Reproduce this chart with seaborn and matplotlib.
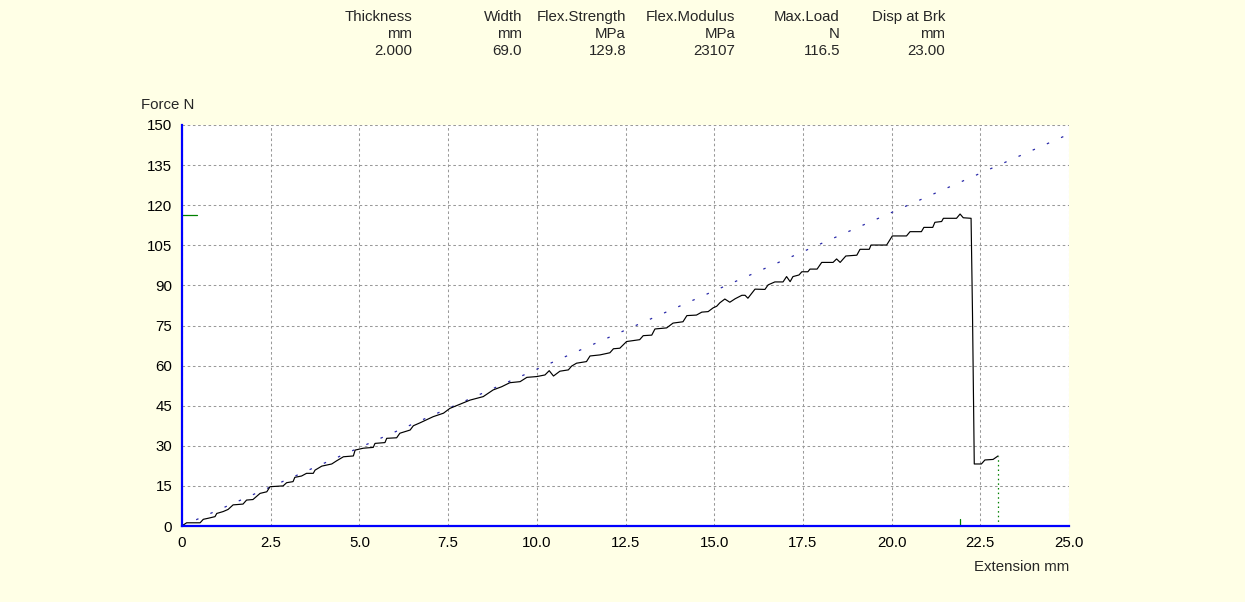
import matplotlib
matplotlib.use("Agg")
import matplotlib.pyplot as plt
import seaborn as sns
import pandas as pd

# ---- data ----
header_names = ["Thickness", "Width", "Flex.Strength", "Flex.Modulus", "Max.Load", "Disp at Brk"]
header_units = ["mm", "mm", "MPa", "MPa", "N", "mm"]
header_values = ["2.000", "69.0", "129.8", "23107", "116.5", "23.00"]

extension = [0.00, 0.04, 0.13, 0.51, 0.60, 0.74, 0.93, 0.98, 1.16, 1.30,
             1.44, 1.72, 1.82, 2.00, 2.20, 2.39, 2.48, 2.85, 2.95, 3.13,
             3.18, 3.37, 3.51, 3.70, 3.75, 3.94, 4.22, 4.36, 4.55, 4.83,
             4.88, 5.11, 5.39, 5.44, 5.72, 5.77, 6.05, 6.14, 6.43, 6.52,
             6.71, 7.08, 7.37, 7.55, 7.84, 8.12, 8.49, 8.77, 9.01, 9.24,
             9.53, 9.72, 10.00, 10.23, 10.35, 10.47, 10.65, 10.89, 10.98, 11.12,
             11.40, 11.50, 11.78, 12.06, 12.16, 12.34, 12.53, 12.90, 13.00, 13.24,
             13.33, 13.66, 13.84, 14.12, 14.23, 14.50, 14.65, 14.83, 14.97, 15.07,
             15.16, 15.30, 15.44, 15.59, 15.78, 15.87, 15.95, 16.15, 16.43, 16.52,
             16.71, 16.94, 17.04, 17.14, 17.22, 17.39, 17.47, 17.64, 17.70, 17.90,
             18.03, 18.35, 18.45, 18.55, 18.71, 19.02, 19.11, 19.37, 19.42, 19.86,
             20.02, 20.42, 20.52, 20.84, 20.91, 21.16, 21.22, 21.41, 21.46, 21.83,
             21.93, 22.02, 22.24, 22.28, 22.32, 22.33, 22.53, 22.63, 22.86, 23.00]

force = [0.0, 0.4, 1.2, 1.2, 2.5, 2.9, 3.5, 4.7, 5.4, 6.2,
         7.9, 8.2, 9.7, 9.9, 12.2, 12.8, 14.7, 15.0, 16.2, 16.6,
         18.2, 18.7, 19.7, 19.7, 20.9, 22.4, 23.2, 24.4, 25.9, 26.2,
         28.4, 29.1, 29.4, 30.9, 31.2, 32.8, 33.0, 34.7, 35.9, 37.5,
         38.6, 40.9, 42.2, 44.0, 45.6, 47.1, 48.4, 50.9, 52.1, 53.6,
         54.0, 55.6, 55.9, 56.5, 58.1, 56.1, 57.9, 58.4, 59.8, 60.9,
         61.5, 63.6, 64.0, 64.8, 66.3, 66.5, 69.0, 69.7, 71.2, 71.4,
         73.7, 74.1, 75.9, 76.4, 78.7, 78.9, 80.0, 80.2, 81.6, 82.2,
         83.5, 84.9, 83.7, 85.0, 86.3, 86.3, 85.2, 88.6, 88.5, 90.2,
         91.3, 91.3, 93.3, 91.4, 93.3, 93.9, 95.1, 95.1, 96.1, 96.1,
         98.6, 98.6, 99.9, 98.6, 101.0, 101.3, 103.5, 103.5, 105.1, 105.1,
         108.5, 108.5, 110.1, 110.1, 111.7, 111.7, 113.6, 113.9, 115.1, 115.1,
         116.7, 115.3, 115.1, 79.6, 34.7, 23.2, 23.2, 24.7, 24.9, 26.2]

modulus_ext = [0.0, 25.0]
modulus_force = [0.0, 146.6]

max_load = 116.5
max_load_ext = 21.93
break_ext = 23.00
break_force = 26.2

x_ticks = [0, 2.5, 5.0, 7.5, 10.0, 12.5, 15.0, 17.5, 20.0, 22.5, 25.0]
x_tick_labels = ["0", "2.5", "5.0", "7.5", "10.0", "12.5", "15.0", "17.5", "20.0", "22.5", "25.0"]
y_ticks = [0, 15, 30, 45, 60, 75, 90, 105, 120, 135, 150]
y_tick_labels = ["0", "15", "30", "45", "60", "75", "90", "105", "120", "135", "150"]

# ---- style ----
sns.set_style("white")
plt.rcParams["font.family"] = ["Liberation Sans", "DejaVu Sans"]
FS = 10.8
BG = "#FFFFE6"
W, H = 1245, 602
fig = plt.figure(figsize=(W / 100, H / 100), dpi=100, facecolor=BG)
ax = fig.add_axes([182 / W, 1 - 526 / H, (1069 - 182) / W, (526 - 125) / H])
ax.set_facecolor("white")

df = pd.DataFrame({"Extension": extension, "Force": force})
mod = pd.DataFrame({"Extension": modulus_ext, "Force": modulus_force})

sns.lineplot(data=mod, x="Extension", y="Force", ax=ax, color="#2828A8",
             linewidth=0.9, sort=False, zorder=2)
ax.lines[-1].set_dashes((2.0, 10.4))
sns.lineplot(data=df, x="Extension", y="Force", ax=ax, color="black",
             linewidth=0.85, sort=False, zorder=3, estimator=None)

# green markers
ax.plot([0, 0.42], [max_load, max_load], color="#008000", lw=0.9, zorder=4, clip_on=False)
ax.plot([max_load_ext, max_load_ext], [0, 2.6], color="#008000", lw=0.9, zorder=4)
ax.plot([break_ext, break_ext], [0, break_force], color="#008000", lw=0.9,
        linestyle=(0, (1.2, 2.5)), zorder=4)

ax.set_xlim(0, 25)
ax.set_ylim(0, 150)
ax.set_xticks(x_ticks)
ax.set_xticklabels(x_tick_labels)
ax.set_yticks(y_ticks)
ax.set_yticklabels(y_tick_labels)
ax.set_xlabel("")
ax.set_ylabel("")

ax.grid(True, color="#999999", linestyle=(0, (2.5, 2.5)), linewidth=0.75)
ax.set_axisbelow(True)
for s in ["top", "right"]:
    ax.spines[s].set_visible(False)
for s in ["left", "bottom"]:
    ax.spines[s].set_color("#0000FF")
    ax.spines[s].set_linewidth(1.6)
    ax.spines[s].set_zorder(5)
ax.tick_params(axis="both", colors="#0000FF", labelcolor="black", length=3,
               width=1.2, direction="out", labelsize=FS, pad=4)

fig.text(141 / W, 1 - 105 / H, "Force N", ha="left", va="center", fontsize=FS)
fig.text(1069 / W, 1 - 567 / H, "Extension mm", ha="right", va="center", fontsize=FS)

col_right = [412, 522, 626, 735, 840, 945]
for xr, name, unit, val in zip(col_right, header_names, header_units, header_values):
    fig.text(xr / W, 1 - 17 / H, name, ha="right", va="center", fontsize=FS)
    fig.text(xr / W, 1 - 34 / H, unit, ha="right", va="center", fontsize=FS)
    fig.text(xr / W, 1 - 51 / H, val, ha="right", va="center", fontsize=FS)

fig.savefig("out.png", dpi=100, facecolor=BG)
